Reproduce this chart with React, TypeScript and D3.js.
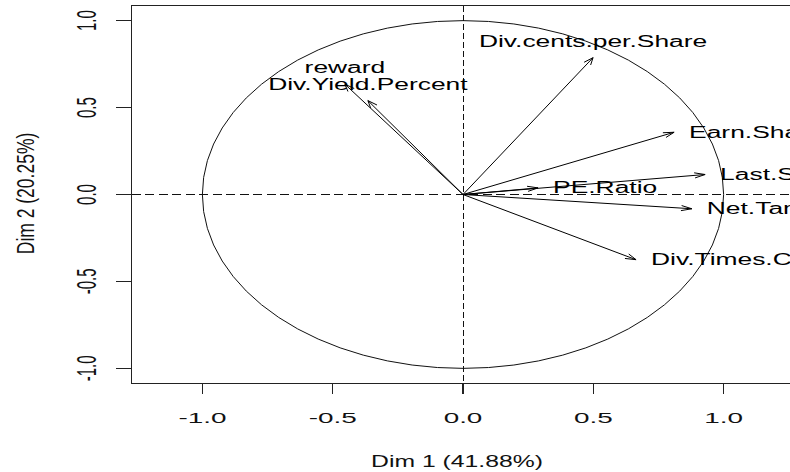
import React from 'react';
import * as d3 from 'd3';

const varNames = ['Div.cents.per.Share', 'Earn.Share', 'Last.Share.Price', 'Net.Tangible.Assets', 'Div.Times.Covered', 'PE.Ratio', 'reward', 'Div.Yield.Percent'];
const dim1 = [0.499, 0.81, 0.929, 0.878, 0.664, 0.288, -0.453, -0.365];
const dim2 = [0.787, 0.358, 0.115, -0.082, -0.375, 0.038, 0.634, 0.54];
const xTicks = [-1, -0.5, 0, 0.5, 1];
const yTicks = [-1, -0.5, 0, 0.5, 1];
const xTitle = 'Dim 1 (41.88%)';
const yTitle = 'Dim 2 (20.25%)';

const W = 790;
const H = 472;
const box = { left: 131.5, right: 794.5, top: 5.5, bottom: 383.5 };
const FONT = '"Liberation Sans", Arial, Helvetica, sans-serif';
const STRETCH = 1.5;

export default function App() {
  const x = d3.scaleLinear().domain([-1.272, 1.272]).range([box.left, box.right]);
  const y = d3.scaleLinear().domain([-1.087, 1.087]).range([box.bottom, box.top]);
  const f1 = d3.format('.1f');
  const fmt = (v: number) => f1(v).replace('\u2212', '-');

  const cx = x(0);
  const cy = y(0);
  const rx = x(1) - x(0);
  const ry = y(0) - y(1);

  const arrows = varNames.map((name, i) => {
    const tx = x(dim1[i]);
    const ty = y(dim2[i]);
    const dxu = (tx - cx) / STRETCH;
    const dyu = ty - cy;
    const ang = Math.atan2(dyu, dxu);
    const L = 7.5;
    const a = (20 * Math.PI) / 180;
    const b1 = [tx - L * Math.cos(ang - a) * STRETCH, ty - L * Math.sin(ang - a)];
    const b2 = [tx - L * Math.cos(ang + a) * STRETCH, ty - L * Math.sin(ang + a)];
    const ax = Math.abs(dim1[i]);
    const ay = Math.abs(dim2[i]);
    let pos: number;
    if (ax > ay) pos = dim1[i] >= 0 ? 4 : 2;
    else pos = dim2[i] >= 0 ? 3 : 1;
    return { name, tx, ty, b1, b2, pos };
  });

  return (
    <svg width={W} height={H} style={{ position: 'absolute', left: 0, top: 0, background: '#fff' }} fontFamily={FONT}>
      <rect x={0} y={0} width={W} height={H} fill="#fff" />
      <ellipse cx={cx} cy={cy} rx={rx} ry={ry} fill="none" stroke="#111" strokeWidth={1} />
      <line x1={box.left} x2={box.right} y1={cy} y2={cy} stroke="#111" strokeWidth={1} strokeDasharray="9 4.5" shapeRendering="crispEdges" />
      <line x1={cx} x2={cx} y1={box.top} y2={box.bottom} stroke="#111" strokeWidth={1} strokeDasharray="6 3" shapeRendering="crispEdges" />
      {arrows.map((d) => (
        <g key={d.name} stroke="#000" strokeWidth={1} fill="none">
          <line x1={cx} y1={cy} x2={d.tx} y2={d.ty} />
          <polyline points={`${d.b1[0]},${d.b1[1]} ${d.tx},${d.ty} ${d.b2[0]},${d.b2[1]}`} />
        </g>
      ))}
      {arrows.map((d) => {
        let tx = d.tx;
        let ty = d.ty;
        let anchor: 'start' | 'middle' | 'end' = 'middle';
        let baseline: 'central' | 'alphabetic' | 'hanging' = 'central';
        if (d.pos === 3) {
          ty = d.ty - 11;
          baseline = 'alphabetic';
        } else if (d.pos === 1) {
          ty = d.ty + 8;
          baseline = 'hanging';
        } else if (d.pos === 4) {
          tx = d.tx + 15;
          anchor = 'start';
        } else {
          tx = d.tx - 15;
          anchor = 'end';
        }
        return (
          <text
            key={'l' + d.name}
            transform={`translate(${tx},${ty}) scale(1.65,1)`}
            fontSize={16}
            textAnchor={anchor}
            dominantBaseline={baseline}
            fill="#000"
          >
            {d.name}
          </text>
        );
      })}
      <rect
        x={box.left}
        y={box.top}
        width={box.right - box.left}
        height={box.bottom - box.top}
        fill="none"
        stroke="#222"
        strokeWidth={1.2}
        shapeRendering="crispEdges"
      />
      {xTicks.map((t) => (
        <g key={'xt' + t}>
          <line x1={x(t)} x2={x(t)} y1={box.bottom} y2={box.bottom + 10} stroke="#222" strokeWidth={1.2} shapeRendering="crispEdges" />
          <text transform={`translate(${x(t)},423) scale(1.8,1)`} fontSize={15.5} textAnchor="middle" fill="#111">
            {fmt(t)}
          </text>
        </g>
      ))}
      {yTicks.map((t) => (
        <g key={'yt' + t}>
          <line x1={box.left - 16} x2={box.left} y1={y(t)} y2={y(t)} stroke="#222" strokeWidth={1.2} shapeRendering="crispEdges" />
          <text
            transform={`translate(87,${y(t)}) scale(1.8,1) rotate(-90)`}
            fontSize={15}
            textAnchor="middle"
            dominantBaseline="central"
            fill="#111"
          >
            {fmt(t)}
          </text>
        </g>
      ))}
      <text transform={`translate(457,467) scale(1.5,1)`} fontSize={16.5} textAnchor="middle" fill="#111">
        {xTitle}
      </text>
      <text
        transform={`translate(25,193.5) scale(1.36,1) rotate(-90)`}
        fontSize={17.5}
        textAnchor="middle"
        dominantBaseline="central"
        fill="#111"
      >
        {yTitle}
      </text>
    </svg>
  );
}
